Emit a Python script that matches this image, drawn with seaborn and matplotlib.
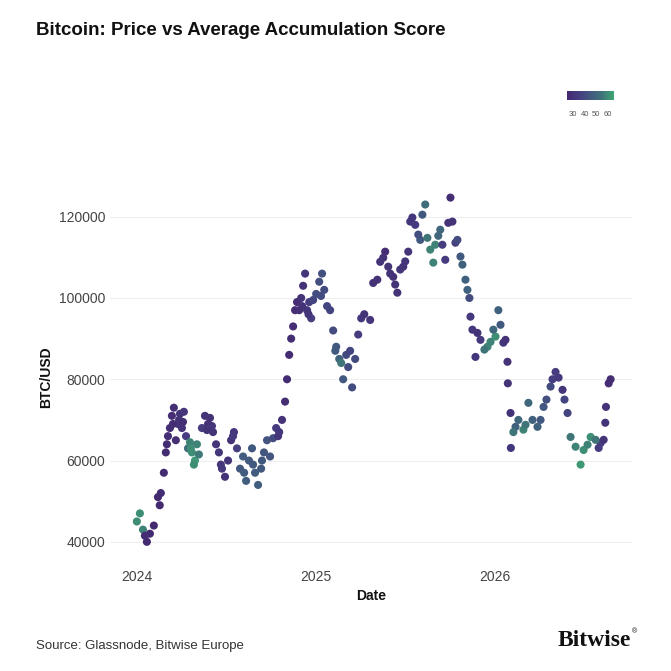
import matplotlib
matplotlib.use("Agg")
import matplotlib.pyplot as plt
import seaborn as sns
import pandas as pd
from matplotlib.colors import LinearSegmentedColormap

date = [2024.000,2024.017,2024.034,2024.056,2024.073,2024.095,2024.118,2024.134,2024.151,2024.162,
        2024.174,2024.185,2024.196,2024.207,2024.218,2024.230,2024.241,2024.252,2024.263,2024.275,
        2024.286,2024.297,2024.308,2024.325,2024.336,2024.347,2024.364,2024.381,2024.398,2024.409,
        2024.426,2024.443,2024.459,2024.476,2024.493,2024.510,2024.527,2024.543,2024.560,2024.577,
        2024.594,2024.611,2024.627,2024.644,2024.661,2024.678,2024.695,2024.711,2024.728,2024.745,
        2024.762,2024.779,2024.796,2024.812,2024.829,2024.840,2024.852,2024.863,2024.874,2024.885,
        2024.896,2024.908,2024.919,2024.930,2024.941,2024.952,2024.964,2024.975,2024.986,2025.003,
        2025.020,2025.036,2025.048,2025.064,2025.081,2025.098,2025.115,2025.132,2025.143,2025.154,
        2025.171,2025.182,2025.193,2025.204,2025.221,2025.238,2025.255,2025.272,
        2025.305,2025.345,2025.389,2025.417,2025.457,2025.490,2025.518,2025.529,2025.557,2025.585,
        2025.613,2025.641,2025.658,2025.697,2025.725,2025.742,2025.754,2025.782,2025.810,2025.838,
        2025.860,2025.866,2025.905,2025.894,2025.961,2026.006,2026.022,2026.050,2026.073,2026.075,
        2026.090,2026.092,2026.118,2026.162,2026.190,2026.241,2026.275,2026.314,2026.342,2026.381,
        2026.409,2026.426,2026.454,2026.482,2026.538,2026.594,2026.620,2026.624,2026.639,2026.650]
price = [45000,47000,43000,40000,42000,44000,51000,52000,57000,62000,
         66000,68000,71000,73000,65000,69000,71500,68000,72000,66000,
         63000,64500,62000,60000,64000,61500,68000,71000,69000,70500,
         67000,64000,62000,58000,56000,60000,65000,67000,63000,58000,
         61000,55000,60000,63000,57000,54000,58000,62000,65000,61000,
         65500,68000,67000,70000,74500,80000,86000,90000,93000,97000,
         99000,97000,100000,103000,106000,97000,99000,95000,99500,101000,
         104000,106000,102000,98000,97000,92000,88000,85000,84000,80000,
         86000,83000,87000,78000,85000,91000,95000,96000,
         94600,104500,111400,106000,101300,107700,111400,118800,118000,114300,
         123000,111900,108700,116800,109400,118500,124700,113600,110200,104500,
         100000,95400,91400,85500,88000,90500,97000,89000,84300,79000,
         71700,63100,68300,67600,74200,68300,73200,78200,81800,77400,
         71700,65800,63400,59000,65800,64300,69300,73200,79000,80000]
score = [60,60,58,
         26,26,26,26,27,27,27,28,28,28,29,29,30,30,30,32,34,
         52,58,60,62,58,56,
         34,30,30,30,30,31,32,33,30,30,30,32,36,
         45,46,47,46,45,46,47,45,44,43,44,40,
         34,32,30,28,27,27,28,28,28,28,29,30,30,31,32,34,36,38,
         40,42,42,40,38,38,40,45,48,55,45,40,40,38,40,40,35,32,30,
         32,30,28,30,30,30,32,32,34,45,52,58,58,50,34,30,28,36,45,48,
         40,33,30,32,58,60,48,32,30,30,30,32,48,58,50,48,44,40,35,32,
         38,55,58,62,60,36,30,30,28,28]

# additional readings from the denser clusters
date_extra = [2024.045,2024.128,2024.168,2024.202,2024.236,2024.258,2024.302,2024.319,2024.392,2024.420,
              2024.470,2024.538,2024.600,2024.650,2024.700,2024.790,2024.925,2024.960,2025.030,2025.110,
              2025.322,2025.361,2025.378,2025.406,2025.434,2025.445,2025.473,2025.501,2025.541,2025.574,
              2025.597,2025.625,2025.669,2025.686,2025.709,2025.765,2025.793,2025.821,2025.849,2025.877,
              2025.922,2025.944,2025.978,2025.994,2026.034,2026.062,2026.106,2026.134,2026.174,2026.213,
              2026.258,2026.291,2026.325,2026.359,2026.392,2026.499,2026.521,2026.566,2026.583,2026.611]
price_extra = [41500,49000,64000,69000,70000,69500,63000,59000,67500,68500,
               59000,66000,57000,59000,60000,66000,98000,96000,100500,87000,
               103700,108900,109900,107700,105200,103300,107000,109000,119800,115600,
               120500,114800,113100,115300,113100,118800,114300,108200,102000,92200,
               89700,87300,89200,92200,93400,89700,67000,70000,68800,70000,
               70000,75000,80000,80400,75000,62600,63900,65100,63100,65100]
score_extra = [28,26,27,28,30,29,60,60,30,31,
               32,33,46,45,45,32,30,31,40,45,
               30,30,30,30,30,30,31,32,32,42,
               45,55,58,50,35,30,40,48,48,32,
               33,55,58,50,45,30,55,50,55,48,
               45,42,35,33,38,60,58,55,35,30]

df = pd.DataFrame({"date": date + date_extra, "price": price + price_extra, "score": score + score_extra})
cmap = LinearSegmentedColormap.from_list("acc", ["#44286f", "#463d80", "#41597f", "#3f7479", "#3ea673"])

sns.set_style("white")
plt.rcParams["font.family"] = ["Liberation Sans", "DejaVu Sans"]
fig = plt.figure(figsize=(6.71, 6.71), dpi=100)
ax = fig.add_axes([0.164, 0.158, 0.778, 0.559])
sns.scatterplot(data=df, x="date", y="price", hue="score", palette=cmap, hue_norm=(25, 65),
                s=34, edgecolor="none", legend=False, ax=ax)
ax.set_xlim(2023.85, 2026.77)
ax.set_ylim(34300, 126600)
ax.set_xticks([2024, 2025, 2026])
ax.set_xticklabels(["2024", "2025", "2026"])
ax.set_yticks([40000, 60000, 80000, 100000, 120000])
ax.set_yticklabels(["40000", "60000", "80000", "100000", "120000"])
ax.tick_params(labelsize=10, colors="#444444", length=0)
ax.grid(axis="y", color="#eeeeee", linewidth=0.8)
for s in ax.spines.values():
    s.set_visible(False)
ax.set_xlabel("Date", fontsize=10, fontweight="bold", color="#111111")
ax.set_ylabel("BTC/USD", fontsize=10, fontweight="bold", color="#111111")

cax = fig.add_axes([0.845, 0.851, 0.07, 0.013])
sm = matplotlib.cm.ScalarMappable(cmap=cmap, norm=matplotlib.colors.Normalize(25, 65))
cb = fig.colorbar(sm, cax=cax, orientation="horizontal", ticks=[30, 40, 50, 60])
cb.outline.set_visible(False)
cax.tick_params(labelsize=5.5, length=0, colors="#555555", pad=8)

fig.text(0.054, 0.955, "Bitcoin: Price vs Average Accumulation Score", fontsize=13.5, fontweight="bold", color="#111111", va="center")
fig.text(0.054, 0.038, "Source: Glassnode, Bitwise Europe", fontsize=9.5, color="#333333", va="center")
fig.text(0.94, 0.046, "Bitwise", fontsize=17, fontweight="bold", family=["Liberation Serif", "DejaVu Serif"], color="#111111", va="center", ha="right")
fig.text(0.942, 0.058, "®", fontsize=5, color="#111111", va="center")
fig.savefig("out.png", dpi=100, facecolor="white")
